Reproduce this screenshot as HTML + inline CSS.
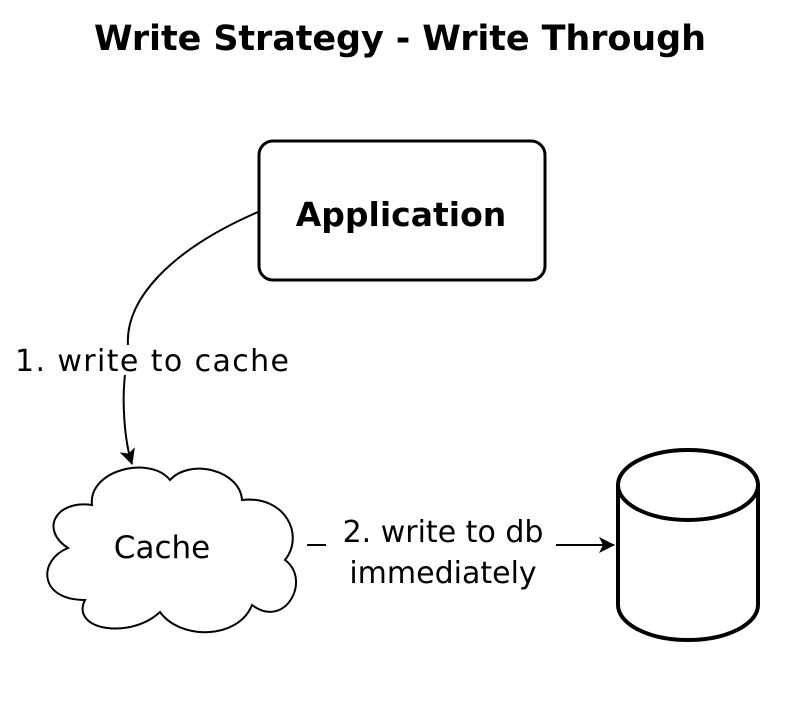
<!DOCTYPE html>
<html><head><style>
body{margin:0;background:#fff;width:800px;height:700px;overflow:hidden}
text{font-family:"Comic Sans MS","DejaVu Sans","Liberation Sans",sans-serif;fill:#000}
</style></head><body>
<svg width="800" height="700" viewBox="0 0 800 700">
<defs><marker id="a" markerWidth="16" markerHeight="16" refX="15" refY="8" orient="auto" markerUnits="userSpaceOnUse"><path d="M0,0 L16,8 L0,16 L4,8 Z" fill="#000"/></marker></defs>
<text x="400" y="50" font-size="35" font-weight="bold" text-anchor="middle" textLength="612">Write Strategy - Write Through</text>
<rect x="259" y="141" width="286" height="139" rx="14" fill="none" stroke="#000" stroke-width="3"/>
<text x="401" y="226" font-size="33" font-weight="bold" text-anchor="middle">Application</text>
<path d="M258,212 C170,250 125,300 128,345 M125,375 C122,400 124,440 132,464" fill="none" stroke="#000" stroke-width="2" marker-end="url(#a)"/>
<text x="152" y="371" font-size="30" text-anchor="middle" textLength="274">1. write to cache</text>
<path d="M92,505 C88,470 150,455 170,480 C190,458 240,470 242,500 C285,495 305,535 285,560 C312,580 285,630 252,605 C238,640 180,640 160,612 C130,640 70,630 85,600 C38,600 38,560 68,548 C40,530 55,500 92,505 Z" fill="none" stroke="#000" stroke-width="2"/>
<text x="162" y="558" font-size="31" text-anchor="middle">Cache</text>
<path d="M307,545 L326,545" stroke="#000" stroke-width="2"/>
<path d="M556,545 L614,545" stroke="#000" stroke-width="2" marker-end="url(#a)"/>
<text x="443" y="542" font-size="30" text-anchor="middle">2. write to db</text>
<text x="443" y="583" font-size="30" text-anchor="middle">immediately</text>
<path d="M618,485 L618,605 A70,35 0 0 0 758,605 L758,485" fill="none" stroke="#000" stroke-width="4"/>
<ellipse cx="688" cy="485" rx="70" ry="35" fill="none" stroke="#000" stroke-width="4"/>
</svg>
</body></html>
